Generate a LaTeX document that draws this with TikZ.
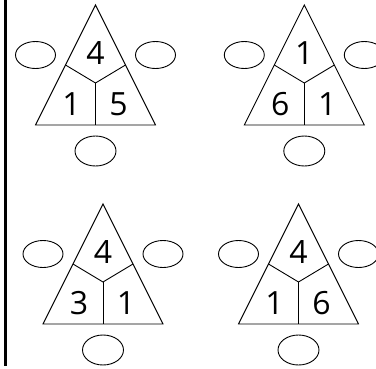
\documentclass[tikz,border=0pt]{standalone}
\usepackage{fontspec}
\setmainfont{Open Sans}
\begin{document}
\begin{tikzpicture}[x=1pt,y=-1pt,line width=0.9pt,
  digit/.style={font=\fontsize{32}{32}\selectfont,inner sep=0pt},
  blank/.style={x radius=20,y radius=13.5}]
\useasboundingbox (0,0) rectangle (376,368);
\draw[line width=3.3pt] (5.6,0) -- (5.6,366);
\foreach \cx/\cy/\a/\b/\c/\n in {95.5/5/4/1/5/ta, 304.3/5/1/6/1/tb, 103/204/4/3/1/tc, 298.5/204/4/1/6/td}{
  \draw (\cx,\cy) -- (\cx-60,\cy+120) -- (\cx+60,\cy+120) -- cycle;
  \coordinate (\n-mid) at (\cx,\cy+78);
  \draw (\cx-30,\cy+60) -- (\n-mid) -- (\cx+30,\cy+60);
  \draw (\n-mid) -- (\cx,\cy+120);
  \node[digit] (\n-top) at (\cx,\cy+48) {\a};
  \node[digit] (\n-left) at (\cx-24,\cy+99) {\b};
  \node[digit] (\n-right) at (\cx+23,\cy+99) {\c};
  \draw (\cx-60,\cy+50) ellipse [blank];
  \draw (\cx+60,\cy+50) ellipse [blank];
  \draw (\cx,\cy+146) ellipse [x radius=20.5,y radius=15];
}
\end{tikzpicture}
\end{document}
